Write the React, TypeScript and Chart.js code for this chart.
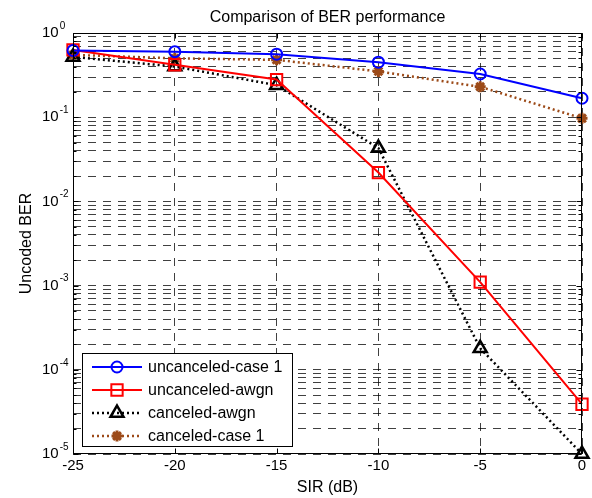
import React, { useEffect, useRef } from "react";
import { Chart, registerables } from "chart.js";

Chart.register(...registerables);

const sirValues = [-25, -20, -15, -10, -5, 0];
const uncanceledCase1 = [0.62, 0.6, 0.56, 0.45, 0.326, 0.168];
const uncanceledAwgn = [0.63, 0.42, 0.28, 0.022, 0.0011, 0.000039];
const canceledAwgn = [0.52, 0.4, 0.24, 0.043, 0.00018, 0.00001];
const canceledCase1 = [0.55, 0.5, 0.48, 0.35, 0.23, 0.097];

const seriesLabels = ["uncanceled-case 1", "uncanceled-awgn", "canceled-awgn", "canceled-case 1"];
const xTicks = [-25, -20, -15, -10, -5, 0];
const yExponents = [-5, -4, -3, -2, -1, 0];
const yMinorMultipliers = [2, 3, 4, 5, 6, 7, 8, 9];

const titleText = "Comparison of BER performance";
const xTitle = "SIR (dB)";
const yTitle = "Uncoded BER";

const FONT = '"Liberation Sans", Arial, sans-serif';
const BROWN = "#9c4a18";

function pts(vals: number[]) {
  return sirValues.map((x, i) => ({ x, y: vals[i] }));
}

function drawMarker(ctx: CanvasRenderingContext2D, style: string, x: number, y: number, r: number, color: string, lw: number) {
  ctx.save();
  ctx.strokeStyle = color;
  ctx.lineWidth = lw;
  ctx.setLineDash([]);
  ctx.beginPath();
  if (style === "circle") {
    ctx.arc(x, y, r, 0, Math.PI * 2);
  } else if (style === "rect") {
    const s = Math.SQRT1_2 * r;
    ctx.rect(x - s, y - s, 2 * s, 2 * s);
  } else if (style === "triangle") {
    for (let k = 0; k < 3; k++) {
      const ang = -Math.PI / 2 + (k * 2 * Math.PI) / 3;
      const px = x + Math.cos(ang) * r;
      const py = y + Math.sin(ang) * r;
      if (k === 0) ctx.moveTo(px, py);
      else ctx.lineTo(px, py);
    }
    ctx.closePath();
  } else if (style === "star") {
    for (let k = 0; k < 4; k++) {
      const ang = (k * Math.PI) / 4;
      ctx.moveTo(x + Math.cos(ang) * r, y + Math.sin(ang) * r);
      ctx.lineTo(x - Math.cos(ang) * r, y - Math.sin(ang) * r);
    }
  }
  ctx.stroke();
  ctx.restore();
}

const overlayPlugin = {
  id: "overlay",
  afterDraw(chart: any) {
    const ctx: CanvasRenderingContext2D = chart.ctx;
    const area = chart.chartArea;
    const xs = chart.scales.x;
    const ys = chart.scales.y;
    ctx.save();
    ctx.strokeStyle = "#000";
    ctx.lineWidth = 1;
    ctx.setLineDash([]);
    const L = Math.round(area.left) + 0.5;
    const R = Math.round(area.right) - 0.5;
    const T = Math.round(area.top) + 0.5;
    const B = Math.round(area.bottom) - 0.5;
    ctx.strokeRect(L, T, R - L, B - T);
    ctx.beginPath();
    xTicks.forEach((v) => {
      const px = Math.round(xs.getPixelForValue(v)) + 0.5;
      ctx.moveTo(px, B);
      ctx.lineTo(px, B - 5);
      ctx.moveTo(px, T);
      ctx.lineTo(px, T + 5);
    });
    yExponents.forEach((e) => {
      const py = Math.round(ys.getPixelForValue(Math.pow(10, e))) + 0.5;
      ctx.moveTo(L, py);
      ctx.lineTo(L + 5, py);
      ctx.moveTo(R, py);
      ctx.lineTo(R - 5, py);
      if (e < 0) {
        yMinorMultipliers.forEach((m) => {
          const pm = Math.round(ys.getPixelForValue(m * Math.pow(10, e))) + 0.5;
          ctx.moveTo(L, pm);
          ctx.lineTo(L + 3, pm);
          ctx.moveTo(R, pm);
          ctx.lineTo(R - 3, pm);
        });
      }
    });
    ctx.stroke();

    ctx.fillStyle = "#000";
    ctx.font = `15px ${FONT}`;
    ctx.textAlign = "center";
    ctx.textBaseline = "middle";
    xTicks.forEach((v) => {
      ctx.fillText(String(v), xs.getPixelForValue(v), 466);
    });
    yExponents.forEach((e) => {
      const py = ys.getPixelForValue(Math.pow(10, e));
      ctx.font = `15px ${FONT}`;
      ctx.textAlign = "left";
      ctx.textBaseline = "middle";
      ctx.fillText("10", 42, py);
      const w = ctx.measureText("10").width;
      ctx.font = `10px ${FONT}`;
      ctx.fillText(String(e), 42 + w + 1, py - 7);
    });
    ctx.font = `16px ${FONT}`;
    ctx.textAlign = "center";
    ctx.textBaseline = "middle";
    ctx.fillText(titleText, (area.left + area.right) / 2, 18);
    ctx.fillText(xTitle, (area.left + area.right) / 2, 488);
    ctx.save();
    ctx.translate(27, (area.top + area.bottom) / 2);
    ctx.rotate(-Math.PI / 2);
    ctx.fillText(yTitle, 0, 0);
    ctx.restore();

    const lx = 82.5, ly = 353.5, lw = 210, lh = 93;
    ctx.fillStyle = "#fff";
    ctx.fillRect(lx, ly, lw, lh);
    ctx.strokeStyle = "#000";
    ctx.lineWidth = 1;
    ctx.strokeRect(lx, ly, lw, lh);
    const rowY = [367, 390, 413, 436];
    chart.data.datasets.forEach((ds: any, i: number) => {
      const y = rowY[i];
      ctx.save();
      ctx.strokeStyle = ds.borderColor;
      ctx.lineWidth = ds.borderWidth;
      ctx.setLineDash(ds.borderDash || []);
      ctx.beginPath();
      ctx.moveTo(92, y);
      ctx.lineTo(142, y);
      ctx.stroke();
      ctx.restore();
      drawMarker(ctx, ds.pointStyle, 117, y, ds.pointRadius, ds.borderColor, ds.pointBorderWidth);
      ctx.fillStyle = "#000";
      ctx.font = `16px ${FONT}`;
      ctx.textAlign = "left";
      ctx.textBaseline = "middle";
      ctx.fillText(ds.label, 148, y + 1);
    });
    ctx.restore();
  },
};

export default function App() {
  const ref = useRef<HTMLCanvasElement | null>(null);
  useEffect(() => {
    if (!ref.current) return;
    const gridOpts = { drawTicks: false, color: "rgba(0,0,0,0.75)", lineWidth: 1 };
    const borderOpts = { display: false, dash: [8, 7] };
    const chart = new Chart(ref.current, {
      type: "line",
      data: {
        datasets: [
          {
            label: seriesLabels[0],
            data: pts(uncanceledCase1),
            borderColor: "#0000ff",
            borderWidth: 2,
            pointStyle: "circle",
            pointRadius: 5.5,
            pointBorderWidth: 2,
            pointBackgroundColor: "transparent",
            pointBorderColor: "#0000ff",
            clip: false,
          } as any,
          {
            label: seriesLabels[1],
            data: pts(uncanceledAwgn),
            borderColor: "#ff0000",
            borderWidth: 2,
            pointStyle: "rect",
            pointRadius: 8,
            pointBorderWidth: 2,
            pointBackgroundColor: "transparent",
            pointBorderColor: "#ff0000",
            clip: false,
          } as any,
          {
            label: seriesLabels[2],
            data: pts(canceledAwgn),
            borderColor: "#000000",
            borderWidth: 2.5,
            borderDash: [2, 3],
            pointStyle: "triangle",
            pointRadius: 7.5,
            pointBorderWidth: 2.5,
            pointBackgroundColor: "transparent",
            pointBorderColor: "#000000",
            clip: false,
          } as any,
          {
            label: seriesLabels[3],
            data: pts(canceledCase1),
            borderColor: BROWN,
            borderWidth: 2.5,
            borderDash: [2, 3],
            pointStyle: "star",
            pointRadius: 5.5,
            pointBorderWidth: 3,
            pointBackgroundColor: BROWN,
            pointBorderColor: BROWN,
            clip: false,
          } as any,
        ],
      },
      options: {
        animation: false,
        responsive: false,
        devicePixelRatio: 1,
        events: [],
        layout: { padding: { left: 73, right: 8, top: 33, bottom: 44 } },
        plugins: { legend: { display: false }, title: { display: false }, tooltip: { enabled: false } },
        elements: { line: { tension: 0 } },
        scales: {
          x: {
            type: "linear",
            min: -25,
            max: 0,
            afterBuildTicks: (s: any) => {
              s.ticks = xTicks.map((v) => ({ value: v }));
            },
            afterFit: (s: any) => {
              s.height = 0;
            },
            ticks: { display: false },
            border: borderOpts,
            grid: gridOpts,
          } as any,
          y: {
            type: "logarithmic",
            min: 1e-5,
            max: 1,
            afterBuildTicks: (s: any) => {
              const t: any[] = [];
              yExponents.forEach((e) => {
                t.push({ value: Math.pow(10, e) });
                if (e < 0) yMinorMultipliers.forEach((m) => t.push({ value: m * Math.pow(10, e) }));
              });
              s.ticks = t;
            },
            afterFit: (s: any) => {
              s.width = 0;
            },
            ticks: { display: false },
            border: borderOpts,
            grid: gridOpts,
          } as any,
        },
      } as any,
      plugins: [overlayPlugin],
    });
    return () => chart.destroy();
  }, []);
  return (
    <div style={{ position: "fixed", left: 0, top: 0, width: 592, height: 498, background: "#fff" }}>
      <canvas ref={ref} width={592} height={498} style={{ display: "block", width: 592, height: 498 }} />
    </div>
  );
}
